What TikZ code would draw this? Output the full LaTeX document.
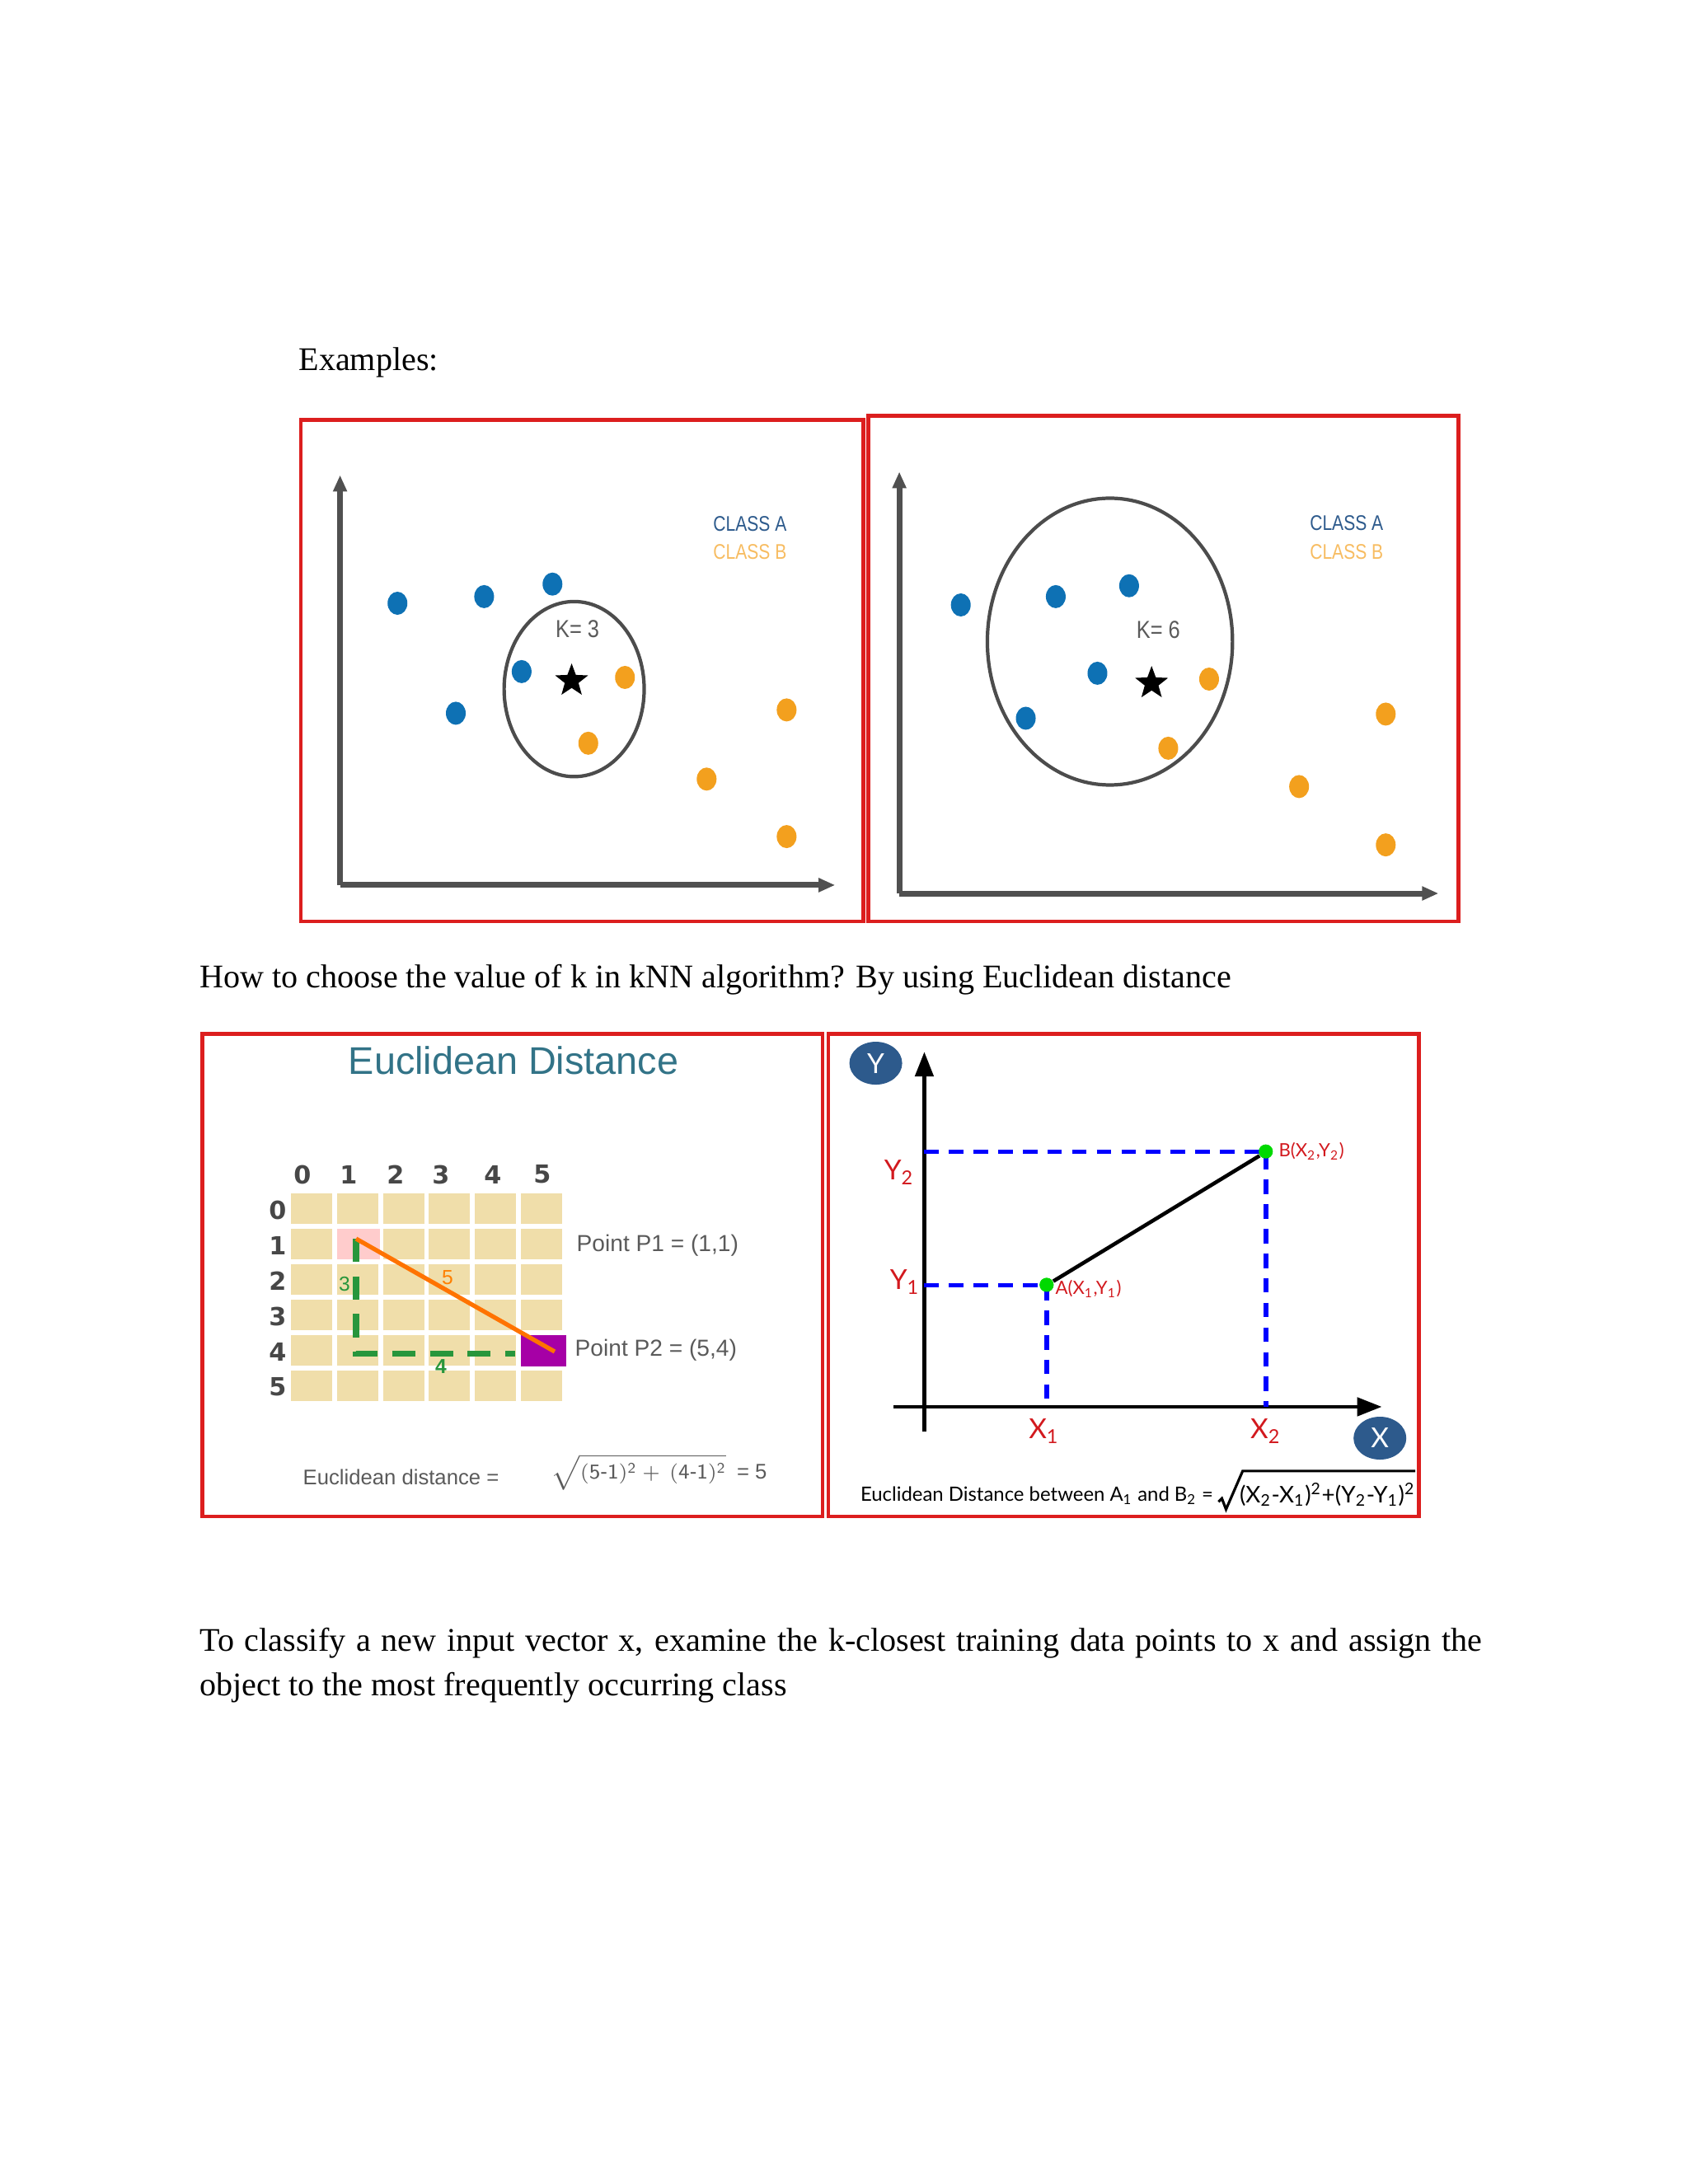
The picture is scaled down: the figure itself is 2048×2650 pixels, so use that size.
\documentclass[tikz,border=0pt]{standalone}
\usepackage{fontspec}
\setmainfont{Liberation Serif}
\newfontfamily\lato{Lato}
\newfontfamily\dvs{DejaVu Sans}
\newfontfamily\lsans{Liberation Sans}
\usetikzlibrary{shapes.geometric,arrows.meta}
\definecolor{cA}{RGB}{14,113,180}
\definecolor{cB}{RGB}{243,160,30}
\definecolor{frame}{RGB}{220,30,30}
\definecolor{axg}{RGB}{80,80,80}
\definecolor{beige}{RGB}{240,222,170}
\definecolor{teal}{RGB}{50,115,135}
\definecolor{gtxt}{RGB}{90,90,90}
\definecolor{dblue}{RGB}{45,90,140}
\definecolor{rtxt}{RGB}{210,25,30}
\definecolor{gdash}{RGB}{40,150,60}
\tikzset{
 panel/.style={draw=frame,line width=1.3pt},
 bdot/.style={ellipse,fill=cA,inner sep=0,minimum width=0.24cm,minimum height=0.28cm},
 odot/.style={ellipse,fill=cB,inner sep=0,minimum width=0.24cm,minimum height=0.28cm},
 kstar/.style={star,star points=5,star point ratio=2.4,fill=black,inner sep=0,minimum size=0.42cm},
 axis/.style={draw=axg,line width=2pt,-{Triangle[length=0.2cm,width=0.16cm]}},
 clsA/.style={font=\lsans\fontsize{7.3}{8}\selectfont,text=dblue,xscale=0.82},
 clsB/.style={font=\lsans\fontsize{7.3}{8}\selectfont,text=cB!70!white,xscale=0.82},
 ktext/.style={font=\lsans\fontsize{8.5}{10}\selectfont,text=gtxt,xscale=0.85},
 body/.style={font=\fontsize{11.4}{14.8}\selectfont,inner sep=0,anchor=west},
 glab/.style={font=\dvs\bfseries\fontsize{8.6}{9}\selectfont,text=black!72},
 ptxt/.style={font=\lsans\fontsize{8}{9}\selectfont,text=gtxt,anchor=west,inner sep=0},
 bdash/.style={draw=blue,line width=1.6pt,dash pattern=on 5pt off 3.5pt},
 gpt/.style={circle,fill=green!85!black,inner sep=0,minimum size=0.17cm},
 rlab/.style={font=\lato\fontsize{9.5}{10}\selectfont,text=rtxt},
 bubble/.style={ellipse,fill=dblue,text=white,font=\lato\fontsize{9.5}{10}\selectfont,minimum width=0.64cm,minimum height=0.52cm,inner sep=0},
}
\begin{document}
\begin{tikzpicture}[x=0.01cm,y=-0.01cm]
\useasboundingbox (0,0) rectangle (2048,2650);
% panel 3 internals (true pixel coordinates)
\node[font=\lsans\fontsize{13.3}{15}\selectfont,text=teal] (tt) at (623,1287) {Euclidean Distance};
\foreach \c in {0,...,5} \foreach \r in {0,...,5}
  \fill[beige] ({353+\c*55.8},{1448+\r*43}) rectangle ++(50,37);
\fill[pink!80] (409,1491) rectangle ++(52,37);
\fill[violet!70!magenta] (632,1620) rectangle ++(55,38);
\foreach \c/\xx in {0/367,1/423,2/480,3/535,4/598,5/658} \node[glab] at (\xx,1425) {\c};
\foreach \r in {0,...,5} \node[glab] at (337,{1468+\r*43}) {\r};
\coordinate (p1) at (432,1503);
\coordinate (p2) at (673,1640);
\coordinate (cn) at (432,1642);
\coordinate (pe) at (625,1642);
\draw[gdash,line width=2pt,dash pattern=on 8pt off 5pt] (p1) -- (cn) -- (pe);
\draw[orange!90!red,line width=1.5pt] (p1) -- (p2);
\node[font=\lsans\fontsize{7}{8}\selectfont,text=orange] at (543,1550) {5};
\node[font=\lsans\fontsize{7}{8}\selectfont,text=gdash] at (418,1558) {3};
\node[font=\lsans\bfseries\fontsize{7}{8}\selectfont,text=gdash] at (535,1658) {4};
\node[ptxt] (pt1) at (699,1511) {Point P1 = (1,1)};
\node[ptxt] (pt2) at (697,1638) {Point P2 = (5,4)};
\node[ptxt,font=\lsans\fontsize{7.3}{8}\selectfont] (ed) at (367,1792) {Euclidean distance =};
\node[ptxt,font=\lsans\fontsize{7.3}{8}\selectfont] (sq) at (668,1786) {$\sqrt{\mathsf{(5\mbox{-}1)^2+\,(4\mbox{-}1)^2}}$\enspace{= 5}};
\begin{scope}[scale=1.011]
\node[body] (ex) at (358,435) {Examples:};
% panel 1
\draw[panel] (361,504) rectangle (1036,1106);
\coordinate (o1) at (408,1062);
\coordinate (t1) at (408,570);
\coordinate (r1) at (1002,1062);
\draw[axis] (o1) -- (t1);
\draw[axis] (o1) -- (r1);
\draw[draw=black!70,line width=1.2pt] (689,827) ellipse [x radius=0.84cm,y radius=1.05cm];
\node[kstar] (s1) at (686,817) {};
\node[ktext] (k1) at (693,755) {K= 3};
\node[clsA] (a1) at (900,629) {CLASS A};
\node[clsB] (b1) at (900,662) {CLASS B};
\foreach \p in {(477,724),(581,716),(663,701),(626,806),(547,856)} \node[bdot] at \p {};
\foreach \p in {(750,813),(706,892),(944,852),(848,935),(944,1004)} \node[odot] at \p {};
% panel 2
\draw[panel] (1042,499) rectangle (1750,1106);
\coordinate (o2) at (1079,1072);
\coordinate (t2) at (1079,566);
\coordinate (r2) at (1726,1072);
\draw[axis] (o2) -- (t2);
\draw[axis] (o2) -- (r2);
\draw[draw=black!70,line width=1.2pt] (1332,770) ellipse [x radius=1.47cm,y radius=1.72cm];
\node[kstar] (s2) at (1382,820) {};
\node[ktext] (k2) at (1390,756) {K= 6};
\node[clsA] (a2) at (1616,628) {CLASS A};
\node[clsB] (b2) at (1616,662) {CLASS B};
\foreach \p in {(1153,726),(1267,716),(1355,703),(1317,808),(1231,862)} \node[bdot] at \p {};
\foreach \p in {(1451,815),(1402,898),(1663,857),(1559,944),(1663,1014)} \node[odot] at \p {};
% text
\node[body] (how) at (239,1176) {How to choose the value of k in kNN algorithm? By using Euclidean distance};
% panel 3 frame
\draw[panel] (243,1241) rectangle (987,1820);
% panel 4
\draw[panel] (994,1241) rectangle (1703,1820);
\coordinate (o4) at (1109,1718);
\coordinate (yt) at (1109,1262);
\coordinate (xl) at (1072,1688);
\coordinate (xr) at (1658,1688);
\draw[line width=1.4pt,-{Triangle[length=0.3cm,width=0.22cm]}] (o4) -- (yt);
\draw[line width=1.4pt,-{Triangle[length=0.3cm,width=0.22cm]}] (xl) -- (xr);
\coordinate (yb) at (1109,1382);
\coordinate (ya) at (1109,1542);
\coordinate (xb) at (1519,1688);
\coordinate (xa) at (1256,1688);
\node[gpt] (B) at (1519,1382) {};
\node[gpt] (A) at (1256,1542) {};
\draw[bdash] (yb) -- (B.center) -- (xb);
\draw[bdash] (ya) -- (A.center) -- (xa);
\draw[line width=1.3pt] (A) -- (B);
\node[gpt] at (1519,1382) {};
\node[gpt] at (1256,1542) {};
\node[bubble] (Yb) at (1051,1276) {Y};
\node[bubble] (Xb) at (1656,1726) {X};
\node[rlab] at (1079,1407) {Y\textsubscript{2}};
\node[rlab] at (1086,1539) {Y\textsubscript{1}};
\node[rlab] at (1253,1718) {X\textsubscript{1}};
\node[rlab] at (1519,1718) {X\textsubscript{2}};
\node[rlab,anchor=west,inner sep=0,font=\lato\fontsize{6.3}{7}\selectfont] at (1534,1382) {B(X\textsubscript{2},Y\textsubscript{2})};
\node[rlab,anchor=west,inner sep=0,font=\lato\fontsize{6.3}{7}\selectfont] at (1266,1547) {A(X\textsubscript{1},Y\textsubscript{1})};
\node[anchor=west,inner sep=0,font=\lato\fontsize{6.8}{8}\selectfont] (f4) at (1032,1795) {Euclidean Distance between A\textsubscript{1} and B\textsubscript{2} =};
\coordinate (r0) at (1462,1802);
\coordinate (r1b) at (1466,1798);
\coordinate (r2b) at (1471,1811);
\coordinate (r3) at (1491,1765);
\coordinate (r4) at (1698,1765);
\draw[line width=0.9pt] (r0) -- (r1b) -- (r2b) -- (r3) -- (r4);
\node[anchor=west,inner sep=0,font=\lato\fontsize{7.9}{9}\selectfont] (f5) at (1487,1794) {(X\textsubscript{2}-X\textsubscript{1})\textsuperscript{2}+(Y\textsubscript{2}-Y\textsubscript{1})\textsuperscript{2}};
% bottom paragraph
\node[body,anchor=north west,text width=15.55cm,align=justify,font=\fontsize{11.4}{15.3}\selectfont] (par) at (239,1953) {To classify a new input vector x, examine the k-closest training data points to x and assign the object to the most frequently occurring class};
\end{scope}
\end{tikzpicture}
\end{document}
